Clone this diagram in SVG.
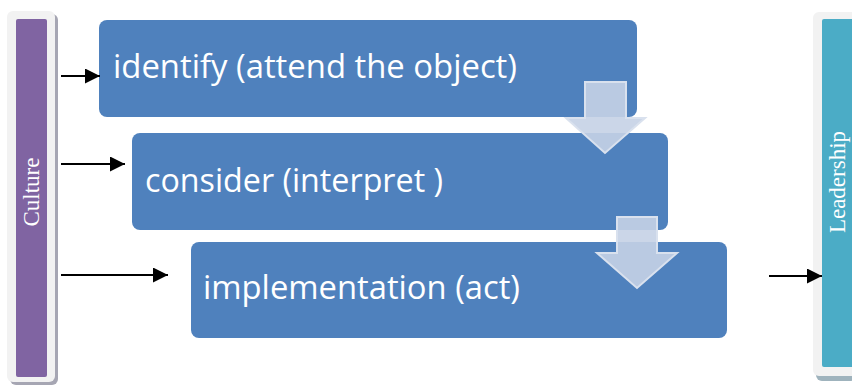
<svg xmlns="http://www.w3.org/2000/svg" width="852" height="386" viewBox="0 0 852 386">
<style>
.box{fill:#4F81BD}
.lbl{font-family:"Open Sans","Liberation Sans",sans-serif;font-size:33px;fill:#ffffff}
.side{font-family:"Liberation Serif","DejaVu Serif",serif;font-size:23px;fill:#ffffff}
.conn{stroke:#000;stroke-width:2;fill:none}
.down{fill:#C5D2E5;fill-opacity:0.9;stroke:#D9E1EE;stroke-width:2}
</style>
<defs>
<marker id="ah2" viewBox="0 0 10 10" refX="10" refY="5" markerWidth="15" markerHeight="15" markerUnits="userSpaceOnUse" orient="auto">
<path d="M0,0 L10,5 L0,10 Z" fill="#000"/>
</marker>
</defs>
<rect width="852" height="386" fill="#fff"/>
<g id="culture">
<rect x="10" y="14" width="48" height="371" rx="6" fill="#A6A6B3"/>
<rect x="7" y="11" width="48" height="371" rx="6" fill="#F2F2F2"/>
<rect x="16" y="19" width="31" height="358" rx="2" fill="#8064A2"/>
<text class="side" transform="translate(39,192) rotate(-90)" text-anchor="middle">Culture</text>
</g>
<g id="leadership">
<rect x="816" y="15" width="40" height="366" rx="6" fill="#9FB3BD"/>
<rect x="813" y="12" width="45" height="364" rx="6" fill="#F2F2F2"/>
<rect x="822" y="19" width="34" height="348" rx="2" fill="#4BACC6"/>
<text class="side" transform="translate(845,182) rotate(-90)" text-anchor="middle">Leadership</text>
</g>
<g id="identify">
<rect class="box" x="99" y="20" width="538" height="97" rx="8"/>
<text class="lbl" x="113" y="78" textLength="404" lengthAdjust="spacingAndGlyphs">identify (attend the object)</text>
</g>
<g id="consider">
<rect class="box" x="132" y="133" width="536" height="97" rx="8"/>
<text class="lbl" x="145" y="192" textLength="298" lengthAdjust="spacingAndGlyphs">consider (interpret )</text>
</g>
<g id="implementation">
<rect class="box" x="191" y="242" width="536" height="96" rx="8"/>
<text class="lbl" x="203" y="299" textLength="317" lengthAdjust="spacingAndGlyphs">implementation (act)</text>
</g>
<g id="connectors">
<path class="down" d="M585,82 L626,82 L626,118 L645,118 L605,153 L566,118 L585,118 Z"/>
<path class="down" d="M617,217 L657,217 L657,253 L677,253 L637,288 L597,253 L617,253 Z"/>
<line class="conn" x1="61" y1="76" x2="100" y2="76" marker-end="url(#ah2)"/>
<line class="conn" x1="61" y1="164" x2="125" y2="164" marker-end="url(#ah2)"/>
<line class="conn" x1="61" y1="275" x2="168" y2="275" marker-end="url(#ah2)"/>
<line class="conn" x1="769" y1="276" x2="822" y2="276" marker-end="url(#ah2)"/>
</g>
</svg>
